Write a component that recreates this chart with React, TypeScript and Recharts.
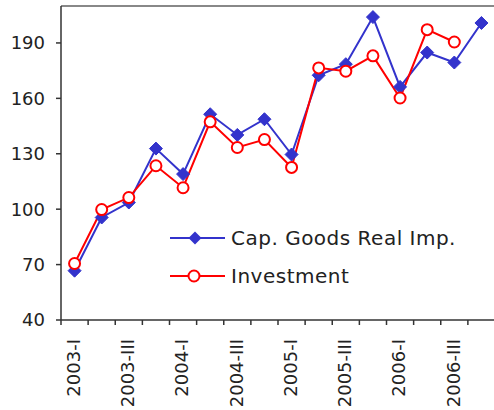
import React from 'react';
import { LineChart, Line, XAxis, YAxis, ReferenceLine, Legend } from 'recharts';

// Quarterly index values
const quarters = [
  '2003-I', '2003-II', '2003-III', '2003-IV',
  '2004-I', '2004-II', '2004-III', '2004-IV',
  '2005-I', '2005-II', '2005-III', '2005-IV',
  '2006-I', '2006-II', '2006-III', '2006-IV',
];
const capGoodsRealImp = [66.7, 95.5, 103.6, 132.8, 119, 151.4, 140.2, 148.7, 129.6, 172.5, 178.5, 204, 166.2, 184.8, 179.4, 200.8];
const investment = [70.6, 99.8, 106.3, 123.5, 111.6, 147.3, 133.4, 137.7, 122.6, 176.5, 174.7, 183, 160.2, 197.2, 190.5];
const labelledQuarters = ['2003-I', '2003-III', '2004-I', '2004-III', '2005-I', '2005-III', '2006-I', '2006-III'];
const yTicks = [40, 70, 100, 130, 160, 190];
const yDomain = [40, 210];

const BLUE = '#3333CC';
const RED = '#FF0000';
const FONT = '"DejaVu Sans", sans-serif';
const TEXT = '#222222';
const AXIS = '#333333';

// Each quarter sits in the middle of its slot; slot borders carry the tick marks.
const data = quarters.map((q, i) => ({
  pos: i + 0.5,
  quarter: q,
  cap: capGoodsRealImp[i],
  inv: i < investment.length ? investment[i] : null,
}));

const xTicks: number[] = [];
for (let i = 0; i <= quarters.length; i++) {
  xTicks.push(i);
  if (i < quarters.length) xTicks.push(i + 0.5);
}

const QuarterTick = (props: any) => {
  const { x, y, payload } = props;
  const v = payload.value as number;
  if (Number.isInteger(v)) {
    return <line x1={x} y1={y} x2={x} y2={y + 5} stroke={AXIS} strokeWidth={1.5} />;
  }
  const q = quarters[Math.round(v - 0.5)];
  if (!labelledQuarters.includes(q)) return <g />;
  return (
    <text
      x={x}
      y={y + 19}
      transform={`rotate(-90, ${x}, ${y + 19})`}
      textAnchor="end"
      dy="0.3em"
      fontFamily={FONT}
      fontSize={18}
      fill={TEXT}
    >
      {q}
    </text>
  );
};

const Diamond = (props: any) => {
  const { cx, cy } = props;
  if (cx == null || cy == null) return <g />;
  const s = 6.5;
  return (
    <polygon
      points={`${cx},${cy - s} ${cx + s},${cy} ${cx},${cy + s} ${cx - s},${cy}`}
      fill={BLUE}
      stroke={BLUE}
      strokeWidth={1}
    />
  );
};

const LegendBox = (props: any) => {
  const payload = props.payload || [];
  return (
    <svg width={330} height={80} style={{ display: 'block' }}>
      {payload.map((item: any, i: number) => {
        const cy = 18 + i * 38;
        const isCap = item.dataKey === 'cap';
        return (
          <g key={item.dataKey}>
            <line x1={10} y1={cy} x2={65} y2={cy} stroke={item.color} strokeWidth={2} />
            {isCap ? (
              <polygon
                points={`35,${cy - 6.5} 41.5,${cy} 35,${cy + 6.5} 28.5,${cy}`}
                fill={BLUE}
              />
            ) : (
              <circle cx={34} cy={cy} r={5.5} fill="#fff" stroke={RED} strokeWidth={2} />
            )}
            <text
              x={71}
              y={cy}
              dy="0.36em"
              fontFamily={FONT}
              fontSize={20}
              letterSpacing={0.5}
              fill={TEXT}
            >
              {item.value}
            </text>
          </g>
        );
      })}
    </svg>
  );
};

export default function App() {
  return (
    <div style={{ position: 'absolute', left: 0, top: 0, width: 494, height: 410, overflow: 'hidden', background: '#fff' }}>
      <LineChart
        width={500}
        height={410}
        data={data}
        margin={{ top: 6, right: 5, left: 0, bottom: 0 }}
      >
        <ReferenceLine y={210} stroke="#888888" strokeWidth={2} ifOverflow="extendDomain" />
        <XAxis
          dataKey="pos"
          type="number"
          domain={[0, quarters.length]}
          ticks={xTicks}
          interval={0}
          height={90}
          tickLine={false}
          tickSize={0}
          tickMargin={0}
          axisLine={{ stroke: AXIS, strokeWidth: 1.5 }}
          tick={<QuarterTick />}
        />
        <YAxis
          type="number"
          domain={yDomain}
          ticks={yTicks}
          interval={0}
          width={61}
          tickSize={5}
          tickMargin={11}
          axisLine={{ stroke: AXIS, strokeWidth: 1.5 }}
          tickLine={{ stroke: AXIS, strokeWidth: 1.5 }}
          tick={{ fontFamily: FONT, fontSize: 18, fill: TEXT }}
        />
        <Legend
          layout="vertical"
          align="center"
          verticalAlign="middle"
          wrapperStyle={{ position: 'absolute', left: 160, top: 220, width: 330, height: 80 }}
          content={<LegendBox />}
        />
        <Line
          dataKey="cap"
          name="Cap. Goods Real Imp."
          stroke={BLUE}
          strokeWidth={2}
          dot={<Diamond />}
          activeDot={false}
          isAnimationActive={false}
        />
        <Line
          dataKey="inv"
          name="Investment"
          stroke={RED}
          strokeWidth={2}
          dot={{ r: 5.5, fill: '#fff', stroke: RED, strokeWidth: 2 }}
          activeDot={false}
          connectNulls={false}
          isAnimationActive={false}
        />
      </LineChart>
    </div>
  );
}
